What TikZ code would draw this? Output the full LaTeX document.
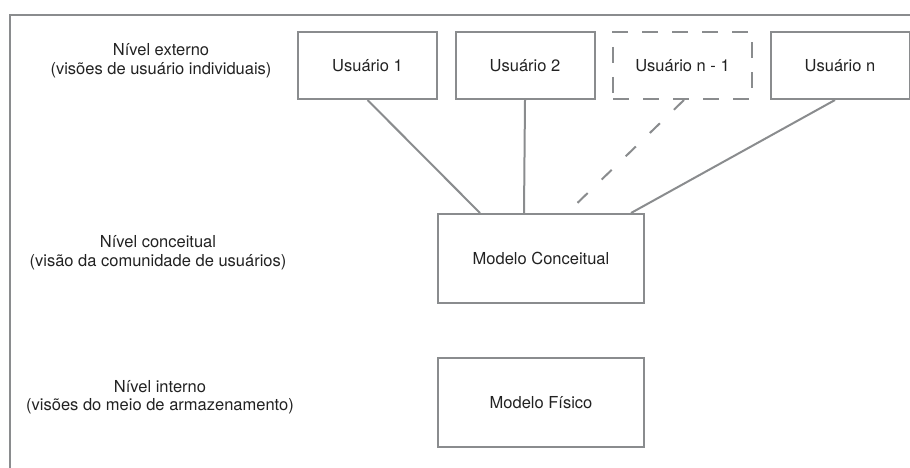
\documentclass[tikz,border=0pt]{standalone}
\usepackage{fontspec}
\setmainfont{TeX Gyre Heros}
\definecolor{edge}{HTML}{8A8C8E}
\definecolor{txt}{HTML}{222222}
\begin{document}
\begin{tikzpicture}[x=1pt,y=-1pt,
  every node/.style={font=\fontsize{16.5}{18.5}\selectfont, text=txt},
  box/.style={draw=edge, line width=2pt, minimum width=139pt, minimum height=67pt, inner sep=0pt},
  bigbox/.style={box, minimum width=206pt, minimum height=89pt},
  dbox/.style={box, dash pattern=on 16pt off 14pt},
  link/.style={draw=edge, line width=2pt},
  dlink/.style={link, dash pattern=on 14pt off 19.5pt},
  level/.style={align=center, inner sep=0pt}]
\useasboundingbox (0,0) rectangle (910,468);

% outer frame (open to the right and bottom)
\draw[edge, line width=2pt] (10,470) -- (10,15) -- (912,15);

% external level: user views
\node[box]  (u1)  at (367.5,65.5) {Usuário 1};
\node[box]  (u2)  at (525,65.5)   {Usuário 2};
\node[dbox] (un1) at (682.5,65.5) {Usuário n - 1};
\node[box]  (un)  at (840,65.5)   {Usuário n};

% conceptual and internal levels
\node[bigbox] (mc) at (541,258.5) {Modelo Conceitual};
\node[bigbox] (mf) at (541,402.5) {Modelo Físico};

% level captions
\node[level] (l1) at (161,60.5)  {Nível externo\\(visões de usuário individuais)};
\node[level] (l2) at (158,252.5) {Nível conceitual\\(visão da comunidade de usuários)};
\node[level] (l3) at (160,397)   {Nível interno\\(visões do meio de armazenamento)};

% mappings from user views to the conceptual model
\draw[link]  (u1.south) -- ([xshift=43pt]mc.north west);
\draw[link]  (u2.south) -- ([xshift=87pt]mc.north west);
\draw[dlink] ([xshift=1.5pt]un1.south) -- ([xshift=130pt]mc.north west);
\draw[link]  ([xshift=-5pt]un.south) -- ([xshift=194pt]mc.north west);
\end{tikzpicture}
\end{document}
